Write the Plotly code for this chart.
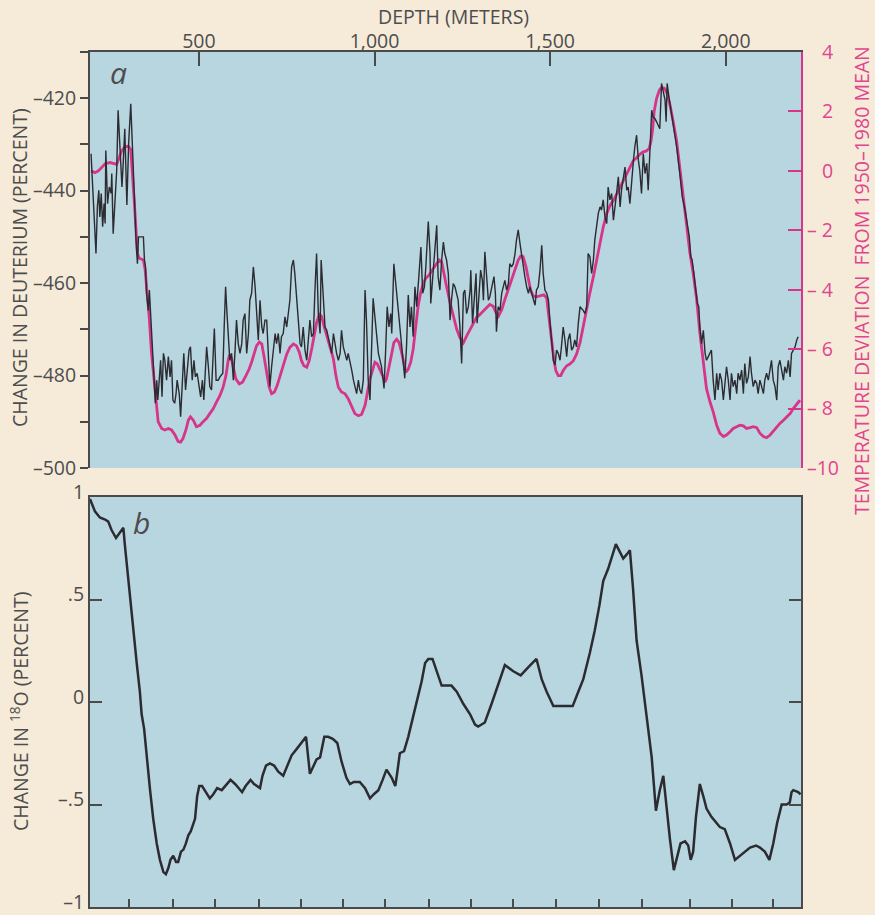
import plotly.graph_objects as go

# ---------------- data ----------------
depth_deut = [
    193, 199, 204, 207, 211, 215, 218, 222, 226, 230,
    233, 235, 240, 245, 250, 252, 256, 262, 266, 270,
    275, 281, 285, 289, 295, 300, 306, 311, 316, 321,
    325, 328, 342, 345, 348, 351, 356, 359, 363, 368,
    372, 376, 380, 383, 387, 391, 395, 399, 403, 408,
    413, 418, 422, 426, 431, 435, 438, 444, 448, 453,
    457, 462, 467, 472, 476, 481, 486, 490, 495, 500,
    505, 510, 514, 519, 522, 527, 531, 536, 541, 544,
    549, 555, 560, 568, 572, 576, 580, 585, 588, 593,
    598, 603, 607, 612, 617, 622, 626, 631, 636, 641,
    645, 650, 655, 660, 664, 669, 674, 679, 683, 688,
    693, 698, 702, 707, 712, 717, 721, 726, 731, 735,
    740, 745, 750, 754, 759, 764, 769, 773, 778, 783,
    788, 792, 797, 802, 807, 811, 816, 821, 826, 830,
    835, 840, 845, 848, 854, 859, 864, 868, 873, 878,
    883, 887, 892, 897, 902, 906, 911, 916, 921, 925,
    930, 935, 940, 944, 949, 954, 958, 963, 968, 973,
    977, 982, 987,
    996, 1004, 1011, 1020, 1027, 1032, 1036, 1041, 1046, 1049,
    1055, 1063, 1070, 1077, 1082, 1086, 1091, 1096, 1101, 1105,
    1110, 1115, 1120, 1127, 1132, 1137, 1142, 1146, 1150, 1153,
    1158, 1160, 1165, 1170, 1177, 1181, 1186, 1191, 1196, 1200,
    1205, 1210, 1215, 1219, 1224, 1229, 1234, 1238, 1243, 1248,
    1253, 1257, 1262, 1267, 1272, 1274, 1279, 1284, 1289, 1292,
    1297, 1302, 1307, 1310, 1314, 1319, 1324, 1328, 1335, 1340,
    1344, 1347, 1352, 1357, 1362, 1366, 1371, 1376, 1381, 1385,
    1390, 1395, 1400, 1404, 1409, 1414, 1419, 1423, 1428, 1433,
    1438, 1442, 1447, 1452, 1457, 1461, 1466, 1471, 1476, 1480,
    1485, 1490, 1495, 1499, 1504, 1509, 1514, 1518, 1523, 1528,
    1532, 1537, 1542, 1547, 1551, 1556, 1561, 1566, 1570, 1575,
    1580, 1585, 1589, 1594, 1599, 1604, 1608, 1613, 1618, 1623,
    1627, 1632, 1637, 1642, 1646, 1651, 1656, 1661, 1665, 1670,
    1675, 1680, 1684, 1689, 1694, 1699, 1703, 1708, 1713, 1718,
    1722, 1727, 1732, 1737, 1741, 1746, 1751, 1755, 1760, 1765,
    1770, 1775, 1779, 1784, 1789, 1793, 1798, 1803, 1808, 1812,
    1817, 1822, 1827, 1830, 1833, 1838, 1846, 1852, 1860, 1869,
    1876, 1884, 1891, 1896, 1900, 1904, 1909, 1914, 1919, 1923,
    1926, 1931, 1936, 1941, 1945, 1950, 1955, 1959, 1964, 1969,
    1974, 1978, 1983, 1988, 1993, 1997, 2002, 2007, 2012, 2016,
    2021, 2026, 2031, 2035, 2040, 2045, 2050, 2054, 2059, 2064,
    2069, 2073, 2078, 2083, 2088, 2092, 2097, 2102, 2107, 2111,
    2116, 2121, 2126, 2130, 2135, 2140, 2145, 2149, 2154, 2159,
    2164, 2168, 2173, 2178, 2183, 2187, 2192, 2197, 2202, 2206,
]
deuterium = [
    -432.0, -440.6, -450.7, -453.6, -443.5, -439.9, -445.7, -440.6, -447.8, -442.8,
    -447.1, -431.3, -442.8, -439.2, -440.6, -436.3, -449.3, -440.6, -435.6, -422.6,
    -430.5, -439.2, -433.4, -426.6, -443.1, -429.8, -421.2, -433.4, -440.6, -450.7,
    -455.8, -450.0, -450.0, -455.0, -456.5, -462.2, -465.9, -461.5, -468.0, -473.1,
    -481.0, -486.0, -481.0, -485.3, -481.0, -476.7, -484.6, -475.2, -476.7, -481.0,
    -475.9, -480.3, -476.7, -485.3, -486.0, -483.9, -481.0, -483.9, -488.9, -481.0,
    -475.2, -483.1, -478.1, -474.5, -473.8, -481.0, -476.7, -480.3, -479.5, -481.7,
    -484.6, -481.0, -485.3, -478.1, -473.8, -478.1, -482.4, -483.1, -475.9, -469.8,
    -481.0, -481.0, -480.3, -479.5, -469.5, -460.8, -466.6, -472.3, -476.7, -475.2,
    -481.0, -474.5, -468.0, -473.1, -475.2, -473.1, -468.0, -466.6, -475.2, -470.9,
    -463.7, -462.2, -456.5, -460.8, -467.3, -472.3, -463.7, -469.5, -470.9, -468.0,
    -468.0, -476.7, -482.4, -478.1, -474.5, -470.9, -473.1, -470.9, -475.2, -471.6,
    -470.9, -467.3, -469.5, -466.6, -463.7, -456.5, -455.0, -457.9, -462.2, -468.0,
    -473.1, -473.8, -469.5, -474.5, -476.7, -472.3, -468.0, -471.6, -470.9, -462.2,
    -453.6, -466.6, -470.9, -455.0, -464.4, -469.5, -470.2, -471.6, -473.1, -475.2,
    -470.9, -473.1, -475.2, -476.7, -475.2, -470.2, -473.8, -475.2, -476.7, -475.2,
    -476.7, -478.8, -481.0, -482.4, -483.9, -481.0, -483.1, -483.9, -481.0, -461.5,
    -468.0, -481.0, -485.3,
    -463.3, -469.5, -475.2, -478.1, -482.8, -473.8, -465.1, -469.5, -466.6, -470.9,
    -455.8, -462.2, -468.0, -473.8, -478.8, -480.6, -473.8, -462.6, -469.5, -465.1,
    -471.6, -460.8, -465.1, -457.9, -452.2, -462.2, -460.8, -456.5, -452.2, -446.7,
    -453.6, -464.4, -459.4, -455.0, -447.5, -458.6, -461.5, -455.0, -451.1, -453.6,
    -455.0, -457.9, -468.0, -463.7, -460.1, -460.8, -462.2, -463.7, -469.5, -477.4,
    -462.2, -461.5, -466.6, -465.1, -461.5, -457.2, -468.7, -462.2, -457.9, -468.7,
    -462.2, -457.2, -459.4, -463.7, -453.2, -457.9, -463.7, -463.0, -460.1, -458.6,
    -462.2, -470.5, -465.1, -465.9, -462.2, -460.8, -459.4, -461.5, -460.1, -455.8,
    -456.5, -455.8, -453.6, -450.7, -448.5, -451.4, -454.3, -456.5, -458.6, -460.8,
    -462.2, -460.8, -462.2, -463.7, -464.8, -461.5, -460.8, -457.2, -451.8, -457.9,
    -461.5, -462.2, -463.7, -468.0, -471.6, -476.7, -477.7, -474.5, -475.2, -476.7,
    -473.8, -469.5, -472.3, -475.9, -472.3, -470.9, -474.5, -473.8, -472.3, -473.8,
    -468.7, -465.1, -465.5, -465.9, -466.6, -465.1, -453.6, -454.3, -457.9, -455.0,
    -450.7, -447.8, -444.9, -443.5, -444.2, -442.0, -445.7, -447.1, -439.2, -442.0,
    -440.6, -446.4, -444.2, -440.6, -437.0, -443.5, -439.9, -437.7, -434.9, -439.9,
    -439.2, -442.8, -437.0, -433.4, -430.5, -428.0, -433.4, -435.6, -440.6, -432.0,
    -436.3, -434.1, -439.9, -432.0, -422.6, -424.1, -424.4, -425.1, -425.9, -426.6,
    -416.8, -418.3, -420.4, -425.1, -416.8, -419.7, -423.3, -426.2, -430.5, -436.3,
    -441.3, -444.2, -447.8, -450.0, -454.3, -455.0, -457.9, -461.5, -464.4, -465.1,
    -469.5, -473.1, -470.2, -475.2, -476.7, -475.9, -475.2, -474.5, -481.0, -485.3,
    -479.5, -483.1, -479.5, -481.0, -485.3, -482.4, -478.1, -481.0, -485.3, -479.5,
    -482.4, -481.0, -483.9, -479.5, -481.0, -478.8, -483.9, -477.4, -481.7, -480.3,
    -475.9, -479.5, -482.4, -481.0, -481.7, -483.9, -481.0, -482.4, -483.9, -481.0,
    -479.5, -481.0, -478.1, -476.7, -481.0, -482.4, -485.3, -478.1, -476.7, -478.8,
    -481.0, -478.1, -479.5, -476.7, -480.3, -475.2, -474.5, -473.8, -472.3, -471.6,
]

depth_temp = [
    193, 204, 214, 223, 233, 247, 256, 266, 273, 280,
    289, 299, 306, 311, 316, 321, 325, 330, 342, 347,
    353, 359, 365, 372, 378, 384, 394, 403, 413, 422,
    432, 441, 448, 455, 463, 470, 476, 484, 493, 503,
    512, 522, 531, 541, 550, 560, 569, 577, 584, 588,
    593, 598, 605, 615, 624, 634, 643, 650, 657, 664,
    672, 679, 685, 693, 700, 707, 715, 723, 731, 740,
    750, 759, 769, 778, 786, 792, 799, 807, 814, 822,
    828, 835, 843, 849, 856, 864, 873, 883, 890, 897,
    906, 916, 925, 935, 944, 954, 963, 973, 979, 987,
    994, 1001, 1008, 1015, 1023, 1030, 1034, 1042, 1049, 1055,
    1063, 1070, 1077, 1084, 1089, 1096, 1103, 1110, 1118, 1124,
    1131, 1139, 1146, 1156, 1165, 1175, 1184, 1191, 1197, 1205,
    1215, 1224, 1234, 1243, 1253, 1262, 1272, 1281, 1290, 1300,
    1309, 1319, 1328, 1338, 1346, 1353, 1362, 1371, 1381, 1390,
    1400, 1409, 1416, 1423, 1431, 1438, 1444, 1452, 1461, 1473,
    1482, 1490, 1497, 1504, 1511, 1516, 1523, 1530, 1537, 1547,
    1556, 1566, 1575, 1585, 1594, 1604, 1613, 1623, 1632, 1642,
    1651, 1661, 1670, 1680, 1689, 1699, 1708, 1718, 1727, 1736,
    1746, 1755, 1765, 1774, 1782, 1787, 1792, 1796, 1803, 1811,
    1817, 1825, 1833, 1841, 1850, 1860, 1869, 1879, 1888, 1898,
    1907, 1917, 1926, 1936, 1945, 1955, 1964, 1974, 1983, 1993,
    2002, 2012, 2021, 2031, 2040, 2050, 2059, 2069, 2078, 2088,
    2097, 2107, 2116, 2126, 2135, 2145, 2154, 2164, 2173, 2183,
    2192, 2202, 2211,
]
temperature = [
    0.0, -0.06, 0.0, 0.13, 0.24, 0.28, 0.24, 0.22, 0.44, 0.67,
    0.80, 0.83, 0.72, 0.0, -1.0, -2.0, -2.78, -2.94, -3.0, -3.33,
    -4.11, -5.0, -6.11, -7.0, -7.89, -8.44, -8.67, -8.72, -8.67, -8.72,
    -8.89, -9.11, -9.13, -9.0, -8.72, -8.39, -8.28, -8.39, -8.61, -8.56,
    -8.44, -8.33, -8.17, -8.0, -7.78, -7.56, -7.28, -6.89, -6.33, -6.17,
    -6.33, -6.67, -7.0, -7.17, -7.11, -6.89, -6.67, -6.44, -6.17, -5.89,
    -5.76, -5.83, -6.22, -6.78, -7.28, -7.5, -7.44, -7.22, -6.89, -6.5,
    -6.17, -5.94, -5.83, -5.89, -6.11, -6.39, -6.56, -6.61, -6.39, -5.94,
    -5.5, -5.11, -4.83, -4.89, -5.22, -5.56, -5.89, -6.33, -6.89, -7.28,
    -7.44, -7.5, -7.67, -7.94, -8.17, -8.24, -8.2, -7.89, -7.44, -7.0,
    -6.72, -6.44, -6.5, -6.67, -6.89, -7.11, -7.0, -6.56, -6.11, -5.78,
    -5.67, -5.78, -6.11, -6.56, -6.78, -6.67, -6.44, -6.0, -5.22, -4.56,
    -4.11, -3.78, -3.61, -3.5, -3.33, -3.17, -3.0, -3.06, -3.44, -3.89,
    -4.44, -4.89, -5.33, -5.61, -5.78, -5.56, -5.33, -5.11, -4.94, -4.83,
    -4.72, -4.61, -4.5, -4.56, -4.78, -4.89, -4.67, -4.33, -4.0, -3.67,
    -3.33, -3.0, -2.87, -2.89, -3.22, -3.67, -4.0, -4.22, -4.24, -4.2,
    -4.17, -4.28, -5.0, -5.78, -6.39, -6.72, -6.89, -6.89, -6.72, -6.56,
    -6.5, -6.39, -6.17, -5.78, -5.22, -4.67, -4.11, -3.56, -3.0, -2.44,
    -1.89, -1.44, -1.17, -1.0, -0.78, -0.56, -0.33, -0.11, 0.11, 0.33,
    0.44, 0.56, 0.64, 0.67, 0.76, 1.0, 1.44, 2.0, 2.44, 2.72,
    2.8, 2.78, 2.61, 2.22, 1.67, 1.0, 0.11, -0.89, -1.89, -2.78,
    -3.44, -4.33, -5.44, -6.56, -7.33, -7.78, -8.11, -8.56, -8.83, -8.94,
    -8.89, -8.78, -8.67, -8.61, -8.56, -8.58, -8.67, -8.64, -8.61, -8.64,
    -8.83, -8.94, -8.98, -8.89, -8.76, -8.61, -8.5, -8.39, -8.28, -8.17,
    -8.0, -7.83, -7.72,
]

depth_o18 = [
    190, 204, 218, 233, 242, 251, 264, 273, 280, 285,
    289, 294, 304, 313, 323, 332, 337, 344, 351, 361,
    370, 380, 389, 399, 406, 413, 419, 427, 435, 441,
    449, 456, 463, 470, 477, 484, 489, 495, 501, 509,
    517, 531, 541, 552, 565, 576, 590, 603, 612, 623,
    633, 647, 657, 674, 681, 691, 702, 714, 726, 740,
    752, 764, 778, 792, 805, 816, 826, 835, 845, 857,
    868, 881, 894, 906, 920, 930, 941, 958, 973, 987,
    998, 1011, 1023, 1034, 1049, 1059, 1065, 1072, 1084, 1096,
    1110, 1122, 1134, 1144, 1153, 1165, 1177, 1191, 1205, 1219,
    1234, 1253, 1272, 1286, 1295, 1314, 1333, 1352, 1371, 1395,
    1416, 1438, 1461, 1476, 1490, 1509, 1537, 1564, 1580, 1594,
    1613, 1627, 1640, 1651, 1665, 1675, 1687, 1699, 1708, 1718,
    1727, 1736, 1746, 1760, 1774, 1789, 1801, 1812, 1822, 1831,
    1841, 1852, 1862, 1871, 1884, 1893, 1900, 1907, 1915, 1926,
    1936, 1945, 1959, 1974, 1983, 1997, 2012, 2026, 2040, 2054,
    2069, 2086, 2097, 2111, 2124, 2135, 2146, 2159, 2173, 2182,
    2187, 2192, 2206, 2213,
]
oxygen18 = [
    0.99, 0.93, 0.90, 0.89, 0.88, 0.84, 0.80, 0.82, 0.84, 0.85,
    0.77, 0.68, 0.52, 0.36, 0.19, 0.05, -0.06, -0.13, -0.27, -0.43,
    -0.57, -0.69, -0.77, -0.83, -0.84, -0.81, -0.77, -0.75, -0.78, -0.78,
    -0.73, -0.72, -0.69, -0.65, -0.63, -0.59, -0.57, -0.46, -0.41, -0.41,
    -0.43, -0.47, -0.45, -0.42, -0.43, -0.41, -0.38, -0.40, -0.42, -0.44,
    -0.41, -0.38, -0.40, -0.42, -0.36, -0.31, -0.30, -0.31, -0.34, -0.36,
    -0.31, -0.26, -0.23, -0.20, -0.17, -0.35, -0.31, -0.28, -0.27, -0.17,
    -0.17, -0.18, -0.20, -0.29, -0.37, -0.40, -0.39, -0.39, -0.42, -0.47,
    -0.45, -0.43, -0.38, -0.33, -0.37, -0.41, -0.34, -0.25, -0.24, -0.17,
    -0.07, 0.01, 0.10, 0.19, 0.21, 0.21, 0.15, 0.08, 0.08, 0.08,
    0.05, -0.01, -0.06, -0.11, -0.12, -0.10, -0.01, 0.08, 0.18, 0.15,
    0.13, 0.17, 0.21, 0.11, 0.05, -0.02, -0.02, -0.02, 0.05, 0.11,
    0.24, 0.35, 0.47, 0.59, 0.65, 0.71, 0.77, 0.73, 0.70, 0.72,
    0.74, 0.55, 0.30, 0.13, -0.06, -0.27, -0.53, -0.43, -0.36, -0.52,
    -0.67, -0.82, -0.75, -0.69, -0.68, -0.70, -0.77, -0.73, -0.56, -0.40,
    -0.46, -0.52, -0.56, -0.59, -0.61, -0.62, -0.69, -0.77, -0.75, -0.73,
    -0.71, -0.70, -0.71, -0.73, -0.77, -0.69, -0.59, -0.50, -0.50, -0.49,
    -0.44, -0.43, -0.44, -0.45,
]

depth_range = [190, 2214]
depth_ticks = [500, 1000, 1500, 2000]
depth_labels = ["500", "1,000", "1,500", "2,000"]
age_ticks = [302, 426, 545, 672, 791, 911, 1030, 1155, 1274, 1395, 1517,
             1640, 1762, 1899, 2017, 2135]
deut_range = [-500, -410]
deut_ticks = [-500, -480, -460, -440, -420]
deut_labels = ["\u2013500", "\u2013480", "\u2013460", "\u2013440", "\u2013420"]
deut_minor_step = 10
temp_range = [-10, 4]
temp_ticks = [4, 2, 0, -2, -4, -6, -8, -10]
NB = "\u00a0"
temp_labels = [NB * 3 + "4", NB * 3 + "2", NB * 3 + "0",
               "\u2013 2", "\u2013 4", "\u2013 6", "\u2013 8", "\u201310"]
o18_range = [-1, 1]
o18_ticks = [1, 0.5, 0, -0.5, -1]
o18_labels = ["1", ".5", "0", "\u2013.5", "\u20131"]

# ---------------- styling ----------------
W, H = 875, 915
PAPER = "#f6ebd9"
PLOT = "#b8d6df"
PINK = "#d6358a"
PINK_TXT = "#e0458f"
GRAY = "#4a4a4a"
TEXT = "#4d4d4d"
INK = "#2b2b31"
FONT = "Open Sans"
TICK_SIZE = 19.5
TITLE_SIZE = 19.5

X0, X1 = 90 / W, 801 / W
YA0, YA1 = 1 - 468 / H, 1 - 52 / H
YB0, YB1 = 1 - 907 / H, 1 - 497 / H

fig = go.Figure()
fig.add_trace(go.Scatter(x=depth_temp, y=temperature, xaxis="x", yaxis="y",
                         mode="lines", line=dict(color=PINK, width=2.8),
                         hoverinfo="skip", showlegend=False))
fig.add_trace(go.Scatter(x=depth_deut, y=deuterium, xaxis="x", yaxis="y2",
                         mode="lines", line=dict(color=INK, width=1.4),
                         hoverinfo="skip", showlegend=False))
fig.add_trace(go.Scatter(x=depth_o18, y=oxygen18, xaxis="x2", yaxis="y3",
                         mode="lines", line=dict(color=INK, width=2.5),
                         hoverinfo="skip", showlegend=False))

common = dict(showgrid=False, zeroline=False, showline=True, linewidth=2,
              tickwidth=1.5, automargin=False, ticklabeloverflow="allow")

fig.update_layout(
    width=W, height=H, autosize=False,
    margin=dict(l=0, r=0, t=0, b=0, autoexpand=False),
    paper_bgcolor=PAPER, plot_bgcolor=PLOT,
    font=dict(family=FONT, color=TEXT, size=17),
    showlegend=False,
    xaxis=dict(domain=[X0, X1], anchor="y", side="top", range=depth_range,
               tickmode="array", tickvals=depth_ticks, ticktext=depth_labels,
               ticks="inside", ticklen=14, tickcolor=GRAY, linecolor=GRAY,
               ticklabelstandoff=-6,
               tickfont=dict(size=TICK_SIZE, color=TEXT), **common),
    xaxis3=dict(overlaying="x", anchor="y", side="bottom", range=depth_range,
                tickmode="array", tickvals=age_ticks, showticklabels=False,
                ticks="inside", ticklen=10, tickcolor=GRAY, linecolor=GRAY,
                **common),
    yaxis=dict(domain=[YA0, YA1], anchor="x", side="right", range=temp_range,
               tickmode="array", tickvals=temp_ticks, ticktext=temp_labels,
               ticks="inside", ticklen=13, tickcolor=PINK, linecolor=PINK,
               tickfont=dict(size=TICK_SIZE, color=PINK_TXT), **common),
    yaxis2=dict(overlaying="y", anchor="x", side="left", range=deut_range,
                tickmode="array", tickvals=deut_ticks, ticktext=deut_labels,
                ticks="outside", ticklen=8, tickcolor=GRAY, linecolor=GRAY,
                minor=dict(ticks="outside", dtick=deut_minor_step, tick0=-500,
                           ticklen=8, tickcolor=GRAY, tickwidth=1.5, showgrid=False),
                tickfont=dict(size=TICK_SIZE, color=TEXT), **common),
    xaxis2=dict(domain=[X0, X1], anchor="y3", range=depth_range,
                tickmode="array", tickvals=age_ticks, showticklabels=False,
                ticks="inside", ticklen=8, tickcolor=GRAY, linecolor=GRAY,
                mirror=True, **common),
    yaxis3=dict(domain=[YB0, YB1], anchor="x2", range=o18_range,
                tickmode="array", tickvals=o18_ticks, ticktext=o18_labels,
                ticks="inside", ticklen=12, tickcolor=GRAY, linecolor=GRAY,
                mirror="ticks", ticklabelshift=-5,
                tickfont=dict(size=TICK_SIZE, color=TEXT), **common),
)

ann = [
    dict(text="DEPTH (METERS)", x=453 / W, y=1 - 17 / H,
         font=dict(size=TITLE_SIZE, color=TEXT)),
    dict(text="CHANGE IN DEUTERIUM (PERCENT)", x=19 / W, y=1 - 268 / H,
         textangle=-90, font=dict(size=TITLE_SIZE, color=TEXT)),
    dict(text="CHANGE IN <sup>18</sup>O (PERCENT)", x=19 / W, y=1 - 712 / H,
         textangle=-90, font=dict(size=TITLE_SIZE, color=TEXT)),
    dict(text="TEMPERATURE DEVIATION  FROM 1950\u20131980 MEAN", x=861 / W, y=1 - 281 / H,
         textangle=-90, font=dict(size=TITLE_SIZE, color=PINK_TXT)),
    dict(text="<i>a</i>", x=118 / W, y=1 - 72 / H, font=dict(size=30, color=TEXT)),
    dict(text="<i>b</i>", x=141 / W, y=1 - 522 / H, font=dict(size=30, color=TEXT)),
]
for a in ann:
    a.update(xref="paper", yref="paper", showarrow=False,
             xanchor="center", yanchor="middle")
fig.update_layout(annotations=ann)

fig.write_html("out.html")
